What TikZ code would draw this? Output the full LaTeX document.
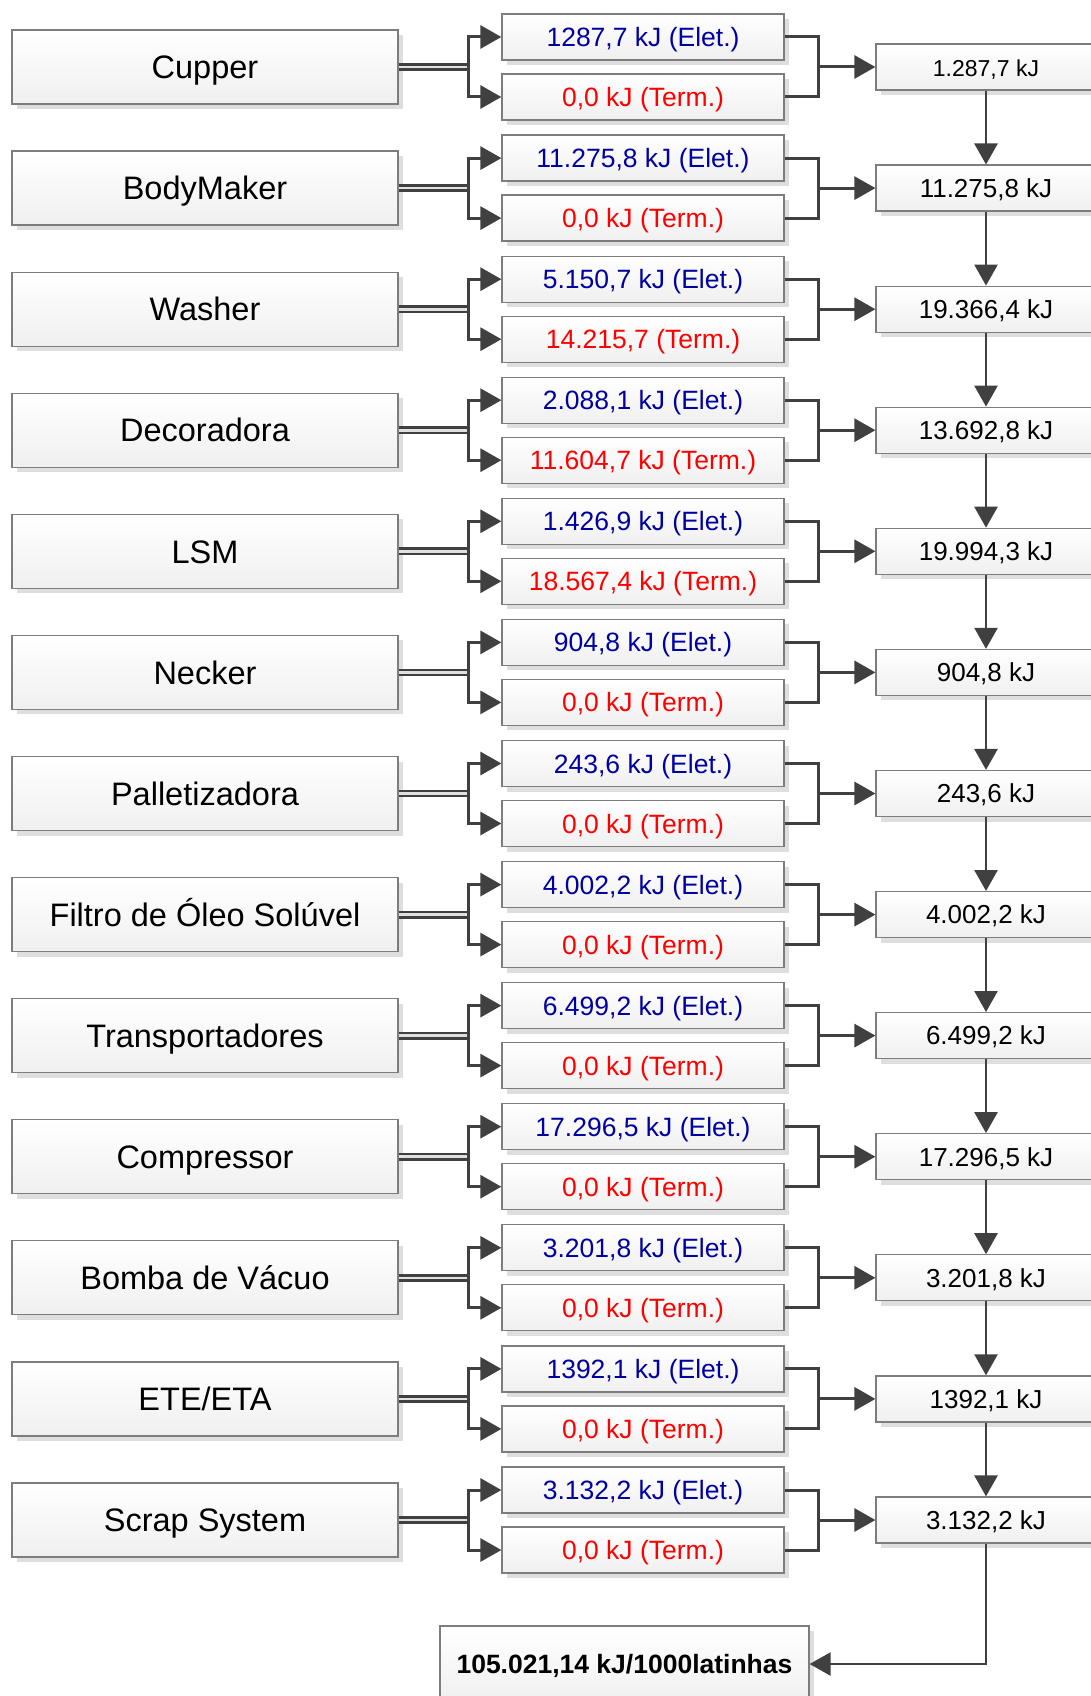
\documentclass[tikz,border=0pt]{standalone}
\usepackage{fontspec}
\setmainfont{Liberation Sans}
\usetikzlibrary{arrows.meta,shadows}
\definecolor{eletc}{RGB}{0,0,160}
\definecolor{termc}{RGB}{255,0,0}
\definecolor{conn}{RGB}{64,64,64}
\definecolor{bord}{RGB}{125,125,125}
\tikzset{
 box/.style={draw=bord, line width=1.2pt, top color=white, bottom color=black!6,
   general shadow={fill=black!13, shadow xshift=5pt, shadow yshift=-5pt},
   inner sep=0pt, align=center},
 lbox/.style={box, minimum width=386pt, minimum height=74pt, font=\fontsize{32.5}{38}\selectfont,
   text height=23.4pt, text depth=0pt},
 mbox/.style={box, minimum width=282pt, minimum height=46pt, font=\fontsize{26.5}{30}\selectfont,
   text height=19.1pt, text depth=0pt},
 rbox/.style={box, minimum width=220pt, minimum height=46pt, font=\fontsize{26}{30}\selectfont,
   text height=18.7pt, text depth=0pt},
 eletx/.style={text=eletc}, termx/.style={text=termc},
 ln/.style={draw=conn, line width=3pt},
 arr/.style={ln, -{Triangle[length=21pt,width=23pt]}},
 dbl/.style={draw=conn, line width=2.6pt, double=black!12, double distance=2.6pt},
}
\newcommand\myrow[6]{%
 \node[lbox] (L#1) at (205,#2) {#3};
 \node[mbox,eletx] (E#1) at (643,#2-30) {#4};
 \node[mbox,termx] (T#1) at (643,#2+30) {#5};
 \node[rbox] (R#1) at (986,#2) {#6};
 \coordinate (f#1) at (468,#2);
 \coordinate (j#1) at (818,#2);
 \draw[dbl] (L#1.east) -- (f#1);
 \draw[arr] (f#1) |- (E#1.west);
 \draw[arr] (f#1) |- (T#1.west);
 \draw[ln] (E#1.east) -| (j#1);
 \draw[ln] (T#1.east) -| (j#1);
 \draw[arr] (j#1) -- (R#1.west);
}
\begin{document}
\begin{tikzpicture}[x=1pt,y=-1pt]
\useasboundingbox (0,0) rectangle (1091,1696);
\myrow{1}{67}{Cupper}{1287,7 kJ (Elet.)}{0,0 kJ (Term.)}{\fontsize{23}{27}\selectfont 1.287,7 kJ}
\myrow{2}{188.1}{BodyMaker}{11.275,8 kJ (Elet.)}{0,0 kJ (Term.)}{11.275,8 kJ}
\myrow{3}{309.2}{Washer}{5.150,7 kJ (Elet.)}{14.215,7 (Term.)}{19.366,4 kJ}
\myrow{4}{430.2}{Decoradora}{2.088,1 kJ (Elet.)}{11.604,7 kJ (Term.)}{13.692,8 kJ}
\myrow{5}{551.3}{LSM}{1.426,9 kJ (Elet.)}{18.567,4 kJ (Term.)}{19.994,3 kJ}
\myrow{6}{672.4}{Necker}{904,8 kJ (Elet.)}{0,0 kJ (Term.)}{904,8 kJ}
\myrow{7}{793.5}{Palletizadora}{243,6 kJ (Elet.)}{0,0 kJ (Term.)}{243,6 kJ}
\myrow{8}{914.6}{Filtro de Óleo Solúvel}{4.002,2 kJ (Elet.)}{0,0 kJ (Term.)}{4.002,2 kJ}
\myrow{9}{1035.6}{Transportadores}{6.499,2 kJ (Elet.)}{0,0 kJ (Term.)}{6.499,2 kJ}
\myrow{10}{1156.7}{Compressor}{17.296,5 kJ (Elet.)}{0,0 kJ (Term.)}{17.296,5 kJ}
\myrow{11}{1277.8}{Bomba de Vácuo}{3.201,8 kJ (Elet.)}{0,0 kJ (Term.)}{3.201,8 kJ}
\myrow{12}{1398.9}{ETE/ETA}{1392,1 kJ (Elet.)}{0,0 kJ (Term.)}{1392,1 kJ}
\myrow{13}{1520}{Scrap System}{3.132,2 kJ (Elet.)}{0,0 kJ (Term.)}{3.132,2 kJ}
\foreach \a/\b in {1/2,2/3,3/4,4/5,5/6,6/7,7/8,8/9,9/10,10/11,11/12,12/13}
  \draw[arr, line width=2.6pt] (R\a) -- (R\b);
\node[box, minimum width=369pt, minimum height=76pt, text height=19.1pt, text depth=0pt,
      font=\bfseries\fontsize{26.5}{30}\selectfont] (F) at (624.5,1664) {105.021,14 kJ/1000latinhas};
\draw[arr, line width=2.4pt] (R13.south) |- (F.east);
\end{tikzpicture}
\end{document}
